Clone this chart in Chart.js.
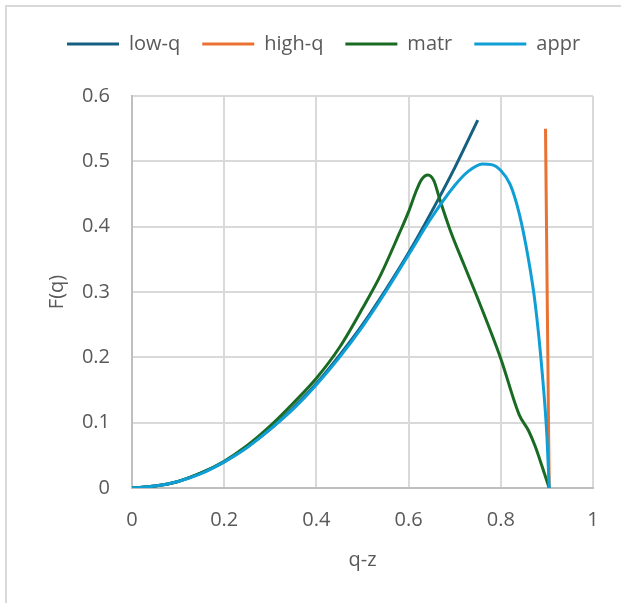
<!DOCTYPE html>
<html>
<head>
<meta charset="utf-8">
<script src="https://cdn.jsdelivr.net/npm/chart.js@4/dist/chart.umd.min.js"></script>
<style>
  html, body { margin: 0; padding: 0; background: #fff; }
  #frame { position: absolute; left: 5px; top: 5px; width: 660px; height: 660px; border: 2px solid #d9d9d9; box-sizing: border-box; }
  #chart { position: absolute; left: 0; top: 0; }
</style>
</head>
<body>
<div id="frame"></div>
<canvas id="chart" width="621" height="603"></canvas>
<script>
var xTickLabels = ['0', '0.2', '0.4', '0.6', '0.8', '1'];
var yTickLabels = ['0', '0.1', '0.2', '0.3', '0.4', '0.5', '0.6'];

// low-q
var lowQx = [0, 0.05, 0.1, 0.15, 0.2, 0.25, 0.3, 0.35, 0.4, 0.45, 0.5, 0.55, 0.6, 0.65, 0.7, 0.75];
var lowQy = [0, 0.003, 0.01, 0.023, 0.04, 0.063, 0.09, 0.123, 0.16, 0.203, 0.25, 0.303, 0.36, 0.423, 0.49, 0.563];

// high-q
var highQx = [0.897, 0.901, 0.905];
var highQy = [0.55, 0.27, 0];

// matr
var matrX = [0, 0.05, 0.1, 0.15, 0.2, 0.25, 0.3, 0.35, 0.4, 0.45, 0.5, 0.54, 0.58, 0.6, 0.615, 0.628, 0.642, 0.655, 0.667, 0.69, 0.72, 0.75, 0.8, 0.84, 0.86, 0.875, 0.89, 0.905];
var matrY = [0, 0.003, 0.01, 0.023, 0.041, 0.065, 0.095, 0.13, 0.168, 0.215, 0.275, 0.327, 0.39, 0.423, 0.452, 0.472, 0.479, 0.47, 0.443, 0.395, 0.342, 0.29, 0.198, 0.112, 0.088, 0.063, 0.032, 0];

// appr
var apprX = [0, 0.05, 0.1, 0.15, 0.2, 0.25, 0.3, 0.35, 0.4, 0.45, 0.5, 0.55, 0.6, 0.65, 0.7, 0.73, 0.76, 0.78, 0.8, 0.82, 0.84, 0.86, 0.875, 0.89, 0.9, 0.905];
var apprY = [0, 0.003, 0.01, 0.022, 0.04, 0.062, 0.09, 0.121, 0.158, 0.2, 0.247, 0.3, 0.357, 0.414, 0.463, 0.485, 0.496, 0.495, 0.486, 0.465, 0.42, 0.35, 0.28, 0.175, 0.08, 0];

function pts(xs, ys) {
    return xs.map(function(x, i) { return { x: x, y: ys[i] }; });
}

var grey = '#595959';
var font = { family: 'Open Sans', size: 20 };

function line(label, xs, ys, color, order) {
    return {
        label: label,
        data: pts(xs, ys),
        borderColor: color,
        backgroundColor: color,
        borderWidth: 3,
        pointRadius: 0,
        showLine: true,
        fill: false,
        cubicInterpolationMode: 'monotone',
        order: order
    };
}

// push the plot down below the legend like the original
var legendSpacer = {
    id: 'legendSpacer',
    beforeInit: function(chart) {
        var fit = chart.legend.fit;
        chart.legend.fit = function() {
            fit.call(this);
            this.height += 32;
        };
    }
};

new Chart(document.getElementById('chart'), {
    type: 'scatter',
    data: {
        datasets: [
            line('low-q', lowQx, lowQy, '#156082', 3),
            line('high-q', highQx, highQy, '#E97132', 2),
            line('matr', matrX, matrY, '#196B24', 1),
            line('appr', apprX, apprY, '#0F9ED5', 0)
        ]
    },
    options: {
        responsive: false,
        animation: false,
        layout: { padding: { left: 45, right: 5, top: 12, bottom: 25 } },
        plugins: {
            tooltip: { enabled: false },
            legend: {
                position: 'top',
                align: 'start',
                labels: {
                    usePointStyle: true,
                    pointStyle: 'line',
                    pointStyleWidth: 52,
                    boxHeight: 3,
                    padding: 22,
                    color: grey,
                    font: font,
                    sort: function(a, b) { return a.datasetIndex - b.datasetIndex; }
                }
            }
        },
        scales: {
            x: {
                type: 'linear',
                min: 0,
                max: 1,
                afterFit: function(s) { s.height = 90; },
                ticks: {
                    stepSize: 0.2, color: grey, font: font, padding: 20,
                    callback: function(v, i) { return xTickLabels[i]; }
                },
                grid: { color: '#d9d9d9', lineWidth: 2, drawTicks: false },
                border: { color: '#bfbfbf', width: 2 },
                title: { display: true, text: 'q-z', color: grey, font: font, padding: { top: 0, bottom: 6 } }
            },
            y: {
                min: 0,
                max: 0.6,
                afterFit: function(s) { s.width = 87; },
                ticks: {
                    stepSize: 0.1, color: grey, font: font, padding: 22,
                    callback: function(v, i) { return yTickLabels[i]; }
                },
                grid: { color: '#d9d9d9', lineWidth: 2, drawTicks: false },
                border: { color: '#bfbfbf', width: 2 },
                title: { display: true, text: 'F(q)', color: grey, font: font, padding: { top: 0, bottom: 0 } }
            },
            // empty right gutter so the legend keeps one row
            gutter: {
                position: 'right',
                afterFit: function(s) { s.width = 23; },
                ticks: { display: false },
                grid: { display: false },
                border: { display: false }
            }
        }
    },
    plugins: [legendSpacer]
});
</script>
</body>
</html>
